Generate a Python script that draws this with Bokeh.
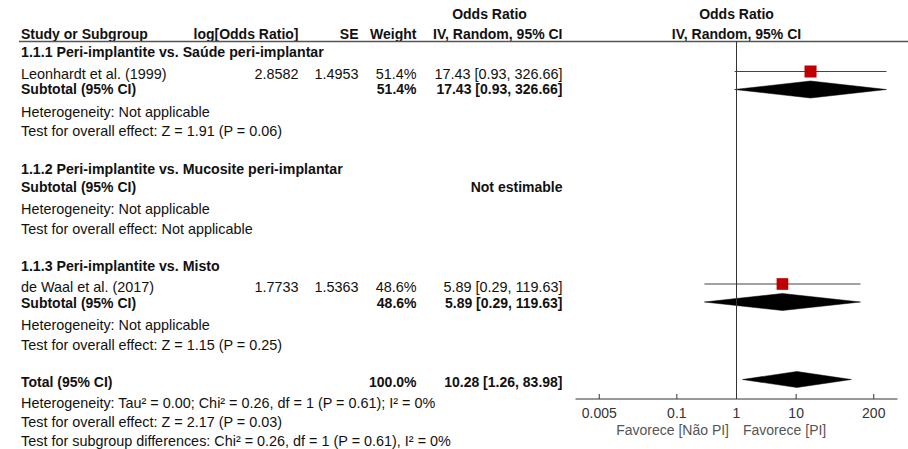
import math
from bokeh.plotting import figure
from bokeh.models import Range1d, LogScale
from bokeh.core.properties import value
from bokeh.embed import file_html
from bokeh.resources import INLINE

# ---------------- data ----------------
subgroups = ["1.1.1 Peri-implantite vs. Saúde peri-implantar",
             "1.1.2 Peri-implantite vs. Mucosite peri-implantar",
             "1.1.3 Peri-implantite vs. Misto"]
study_names = ["Leonhardt et al. (1999)", "de Waal et al. (2017)"]
study_group = [0, 2]
log_or = ["2.8582", "1.7733"]
se = ["1.4953", "1.5363"]
weight = [51.4, 48.6]
or_est = [17.43, 5.89]
or_lo = [0.93, 0.29]
or_hi = [326.66, 119.63]

sub_weight = [51.4, None, 48.6]
sub_or = [17.43, None, 5.89]
sub_lo = [0.93, None, 0.29]
sub_hi = [326.66, None, 119.63]
sub_het = ["Heterogeneity: Not applicable"] * 3
sub_test = ["Test for overall effect: Z = 1.91 (P = 0.06)",
            "Test for overall effect: Not applicable",
            "Test for overall effect: Z = 1.15 (P = 0.25)"]

total_weight = 100.0
total_or = 10.28
total_lo = 1.26
total_hi = 83.98
total_notes = ["Heterogeneity: Tau² = 0.00; Chi² = 0.26, df = 1 (P = 0.61); I² = 0%",
               "Test for overall effect: Z = 2.17 (P = 0.03)",
               "Test for subgroup differences: Chi² = 0.26, df = 1 (P = 0.61), I² = 0%"]

axis_ticks = [0.005, 0.1, 1, 10, 200]
axis_tick_labels = ["0.005", "0.1", "1", "10", "200"]
axis_limits = [0.002, 500]
favours = ["Favorece [Não PI]", "Favorece [PI]"]

# ---------------- layout (pixels) ----------------
W, H = 908, 449

COL_NAME = 20.5
COL_LOG = 298
COL_SE = 358
COL_W = 416
COL_CI = 562
CI_HEAD_C = 489
AX_L, AX_R = 575, 897

FONT = value("Liberation Sans")
FS = "14.4px"
FSB = "14px"
FSG = "14.2px"
TXT = "#111111"

p = figure(width=W, height=H, output_backend="svg", toolbar_location=None,
           x_range=Range1d(0, W), y_range=Range1d(H, 0),
           x_axis_location=None, y_axis_location=None, min_border=0)
p.grid.visible = False
p.outline_line_color = None

lo_l, hi_l = math.log10(axis_limits[0]), math.log10(axis_limits[1])
ppd = (AX_R - AX_L) / (hi_l - lo_l)
p.extra_x_ranges = {"or": Range1d(10 ** (lo_l - AX_L / ppd), 10 ** (hi_l + (W - AX_R) / ppd))}
p.extra_x_scales = {"or": LogScale()}


def txt(xs, ys, texts, align="left", bold=False, size=None, color=TXT, rng="default", xoff=0):
    if size is None:
        size = FSB if bold else FS
    p.text(x=xs, y=ys, text=texts, text_align=align, text_baseline="middle",
           text_font=FONT, text_font_size=size,
           text_font_style="bold" if bold else "normal",
           text_color=color, x_range_name=rng, x_offset=xoff)


def fmt_ci(e, l, h):
    return f"{e:.2f} [{l:.2f}, {h:.2f}]"

# header
txt([CI_HEAD_C], [13.5], ["Odds Ratio"], align="center", bold=True)
txt([1], [13.5], ["Odds Ratio"], align="center", bold=True, rng="or")
txt([COL_NAME], [33], ["Study or Subgroup"], bold=True)
txt([COL_LOG, COL_SE, COL_W, COL_CI], [33] * 4,
    ["log[Odds Ratio]", "SE", "Weight", "IV, Random, 95% CI"], align="right", bold=True)
txt([1], [33], ["IV, Random, 95% CI"], align="center", bold=True, rng="or")
p.segment(x0=[COL_NAME - 2], x1=[W], y0=[41], y1=[41], line_color="#555555", line_width=1.5)

# rows
g_head_y = [51.5, 168, 265]
study_y = {0: 73.5, 2: 286.5}
mark_y = {0: 71, 2: 283.5}
sub_y = [88.5, 186, 302]
sub_d_y = [89, 186, 301.5]
het_y = [111, 208, 324.5]
test_y = [130.5, 228, 344]

txt([COL_NAME] * 3, g_head_y, subgroups, bold=True, size=FSG)
txt([COL_NAME] * 3, sub_y, ["Subtotal (95% CI)"] * 3, bold=True)
txt([COL_NAME] * 3, het_y, sub_het)
txt([COL_NAME] * 3, test_y, sub_test)

for i, g in enumerate(study_group):
    yy = study_y[g]
    txt([COL_NAME], [yy], [study_names[i]])
    txt([COL_LOG, COL_SE, COL_W, COL_CI], [yy] * 4,
        [log_or[i], se[i], f"{weight[i]:.1f}%", fmt_ci(or_est[i], or_lo[i], or_hi[i])], align="right")
    my = mark_y[g]
    p.segment(x0=[or_lo[i]], x1=[or_hi[i]], y0=[my], y1=[my], line_color="#444444",
              line_width=1, x_range_name="or")
    sz = 12 * math.sqrt(weight[i] / max(weight))
    p.rect(x=[or_est[i]], y=[my], width=sz, height=sz, width_units="screen", height_units="screen",
           fill_color="#C00000", line_color=None, x_range_name="or")

for k in range(3):
    yy = sub_y[k]
    if sub_or[k] is None:
        txt([COL_CI], [yy], ["Not estimable"], align="right", bold=True)
        continue
    txt([COL_W, COL_CI], [yy] * 2, [f"{sub_weight[k]:.1f}%", fmt_ci(sub_or[k], sub_lo[k], sub_hi[k])],
        align="right", bold=True)
    dy = sub_d_y[k]
    p.patches(xs=[[sub_lo[k], sub_or[k], sub_hi[k], sub_or[k]]],
              ys=[[dy, dy - 8.5, dy, dy + 8.5]], fill_color="black", line_color="black",
              line_width=0.5, x_range_name="or")

# total
ty = 381.5
txt([COL_NAME], [ty], ["Total (95% CI)"], bold=True)
txt([COL_W, COL_CI], [ty] * 2, [f"{total_weight:.1f}%", fmt_ci(total_or, total_lo, total_hi)],
    align="right", bold=True)
dy = 379
p.patches(xs=[[total_lo, total_or, total_hi, total_or]], ys=[[dy, dy - 8, dy, dy + 8]],
          fill_color="black", line_color="black", line_width=0.5, x_range_name="or")
txt([COL_NAME] * 3, [402.5, 421.5, 440], total_notes)

# forest axis
AXY = 398.5
p.segment(x0=[1], x1=[1], y0=[41], y1=[AXY], line_color="#333333", line_width=1, x_range_name="or")
p.segment(x0=[axis_limits[0]], x1=[axis_limits[1]], y0=[AXY], y1=[AXY], line_color="#333333",
          line_width=1, x_range_name="or")
p.segment(x0=axis_ticks, x1=axis_ticks, y0=[AXY] * len(axis_ticks), y1=[AXY - 5] * len(axis_ticks),
          line_color="#333333", line_width=1, x_range_name="or")
txt(axis_ticks, [412] * len(axis_ticks), axis_tick_labels, align="center", size="14px",
    color="#333333", rng="or")
txt([1], [429.5], [favours[0]], align="right", size="14px", color="#555555", rng="or", xoff=-7.5)
txt([1], [429.5], [favours[1]], align="left", size="14px", color="#555555", rng="or", xoff=6.5)

open("out.html", "w").write(file_html(p, INLINE))
